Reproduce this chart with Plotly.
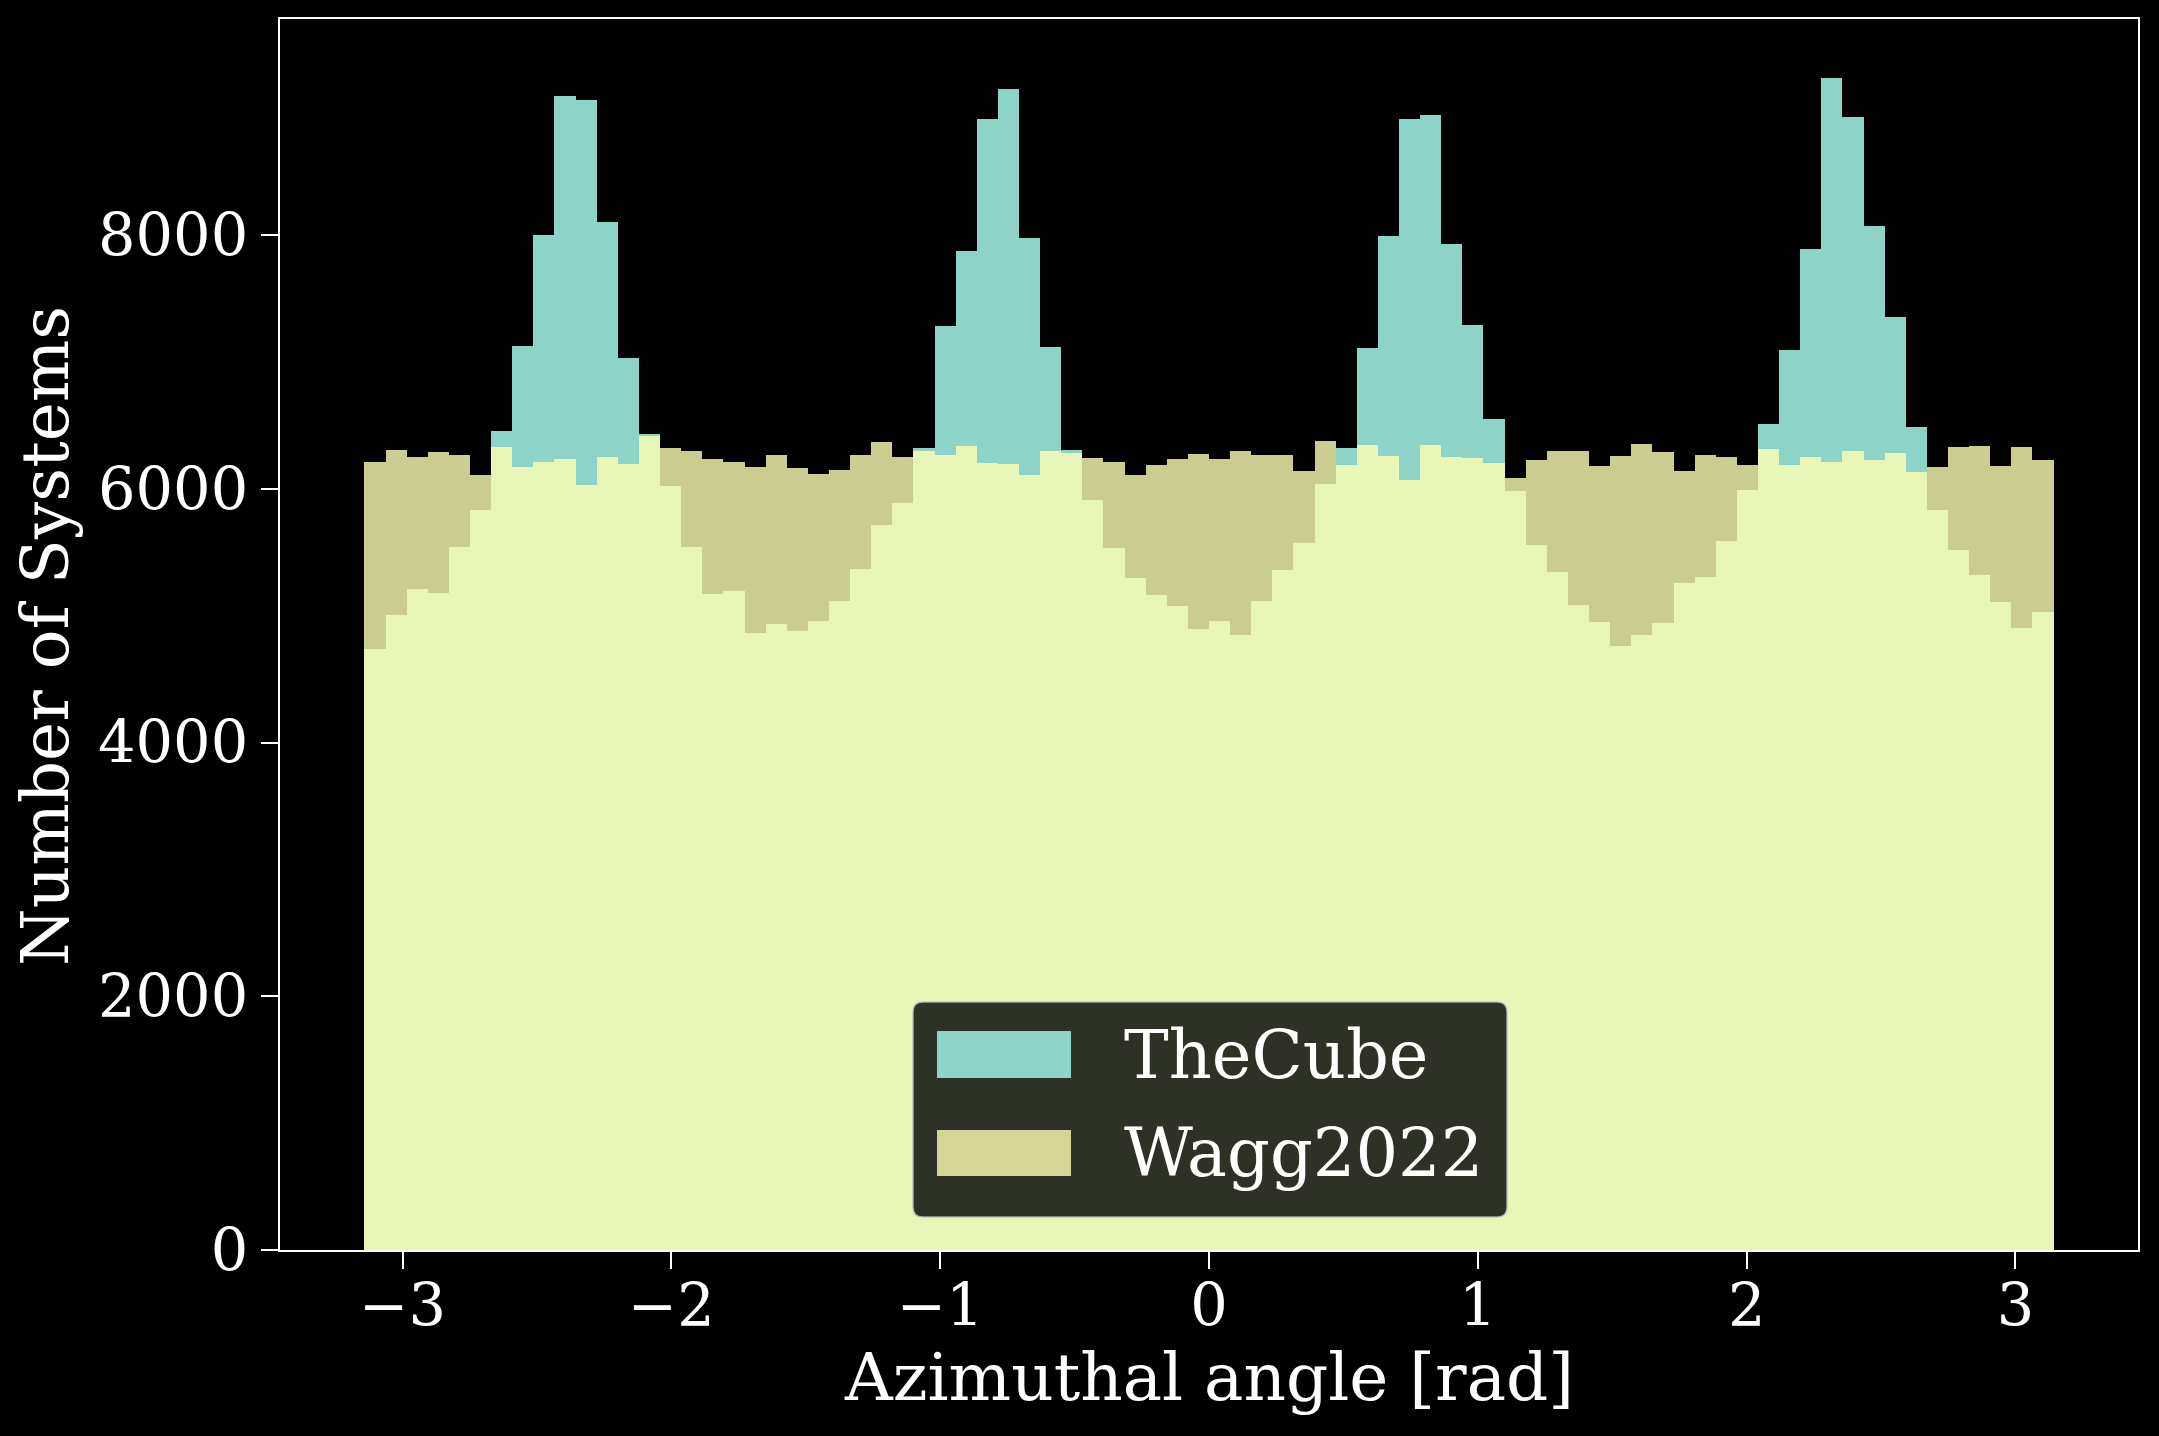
import numpy as np
import plotly.graph_objects as go

# ---------------- data ----------------
bin_edges = np.linspace(-np.pi, np.pi, 81)

thecube_counts = [
    4740, 5007, 5213, 5181, 5545, 5838, 6459, 7128, 8004, 9102,
    9063, 8107, 7035, 6436, 6024, 5545, 5174, 5197, 4865, 4936,
    4882, 4962, 5120, 5371, 5718, 5892, 6323, 7286, 7878, 8918,
    9156, 7981, 7122, 6311, 5915, 5535, 5300, 5165, 5078, 4897,
    4962, 4849, 5120, 5364, 5577, 6040, 6323, 7112, 7998, 8918,
    8950, 7933, 7296, 6552, 5986, 5561, 5348, 5088, 4953, 4763,
    4849, 4946, 5261, 5307, 5593, 5995, 6513, 7099, 7888, 9243,
    8934, 8075, 7357, 6491, 5838, 5522, 5323, 5110, 4904, 5033,
]

wagg2022_counts = [
    6214, 6311, 6253, 6295, 6269, 6111, 6333, 6176, 6214, 6237,
    6034, 6253, 6198, 6420, 6323, 6301, 6237, 6214, 6176, 6269,
    6166, 6121, 6153, 6269, 6372, 6253, 6301, 6269, 6340, 6207,
    6198, 6111, 6301, 6285, 6246, 6214, 6111, 6192, 6237, 6278,
    6237, 6301, 6269, 6269, 6143, 6382, 6192, 6349, 6263, 6073,
    6349, 6253, 6246, 6207, 6088, 6230, 6301, 6301, 6182, 6263,
    6356, 6295, 6143, 6269, 6253, 6192, 6317, 6192, 6253, 6214,
    6301, 6230, 6285, 6137, 6176, 6333, 6340, 6182, 6333, 6230,
]

series_names = ["TheCube", "Wagg2022"]
x_title = "Azimuthal angle [rad]"
y_title = "Number of Systems"
x_tick_values = [-3, -2, -1, 0, 1, 2, 3]
x_tick_labels = ["\u22123", "\u22122", "\u22121", "0", "1", "2", "3"]
y_tick_values = [0, 2000, 4000, 6000, 8000]
y_tick_labels = ["0", "2000", "4000", "6000", "8000"]

# ---------------- figure ----------------
W, H = 2159, 1436
ML, MR, MT, MB = 280, 21, 19, 186
PW, PH = W - ML - MR, H - MT - MB

centers = 0.5 * (bin_edges[:-1] + bin_edges[1:])
widths = np.diff(bin_edges)

C_CUBE = "#8dd3c7"
C_WAGG = "#feffb3"
FONT = "DejaVu Serif"

fig = go.Figure()
fig.add_trace(go.Bar(
    x=centers, y=thecube_counts, width=widths, name=series_names[0],
    marker=dict(color=C_CUBE, line=dict(width=0)), showlegend=False,
))
fig.add_trace(go.Bar(
    x=centers, y=wagg2022_counts, width=widths, name=series_names[1],
    marker=dict(color=C_WAGG, opacity=0.8, line=dict(width=0)), showlegend=False,
))

ymax = max(max(thecube_counts), max(wagg2022_counts)) * 1.05
xpad = 0.05 * (bin_edges[-1] - bin_edges[0])

axis_common = dict(
    showgrid=False, zeroline=False, showline=True, mirror=True,
    linecolor="white", linewidth=2, ticks="outside", ticklen=17,
    tickwidth=2, tickcolor="white", automargin=False,
    tickfont=dict(family=FONT, size=59, color="white"),
)

fig.update_layout(
    width=W, height=H,
    margin=dict(l=ML, r=MR, t=MT, b=MB, pad=0),
    paper_bgcolor="black", plot_bgcolor="black",
    barmode="overlay", bargap=0,
    showlegend=False,
    xaxis=dict(
        range=[bin_edges[0] - xpad, bin_edges[-1] + xpad],
        tickvals=x_tick_values, ticktext=x_tick_labels,
        ticklabelstandoff=-14,
        **axis_common,
    ),
    yaxis=dict(
        range=[0, ymax],
        tickvals=y_tick_values, ticktext=y_tick_labels,
        ticklabelstandoff=1,
        **axis_common,
    ),
)

# ---------------- helpers (pixel -> paper) ----------------
def px(xp):
    return (xp - ML) / PW

def py(yp):
    return (H - MB - yp) / PH

# ---------------- axis titles ----------------
fig.add_annotation(xref="paper", yref="paper", x=0.5, y=py(1377),
                   text=x_title, showarrow=False, xanchor="center", yanchor="middle",
                   font=dict(family=FONT, size=66, color="white"))
fig.add_annotation(xref="paper", yref="paper", x=px(46), y=py(636),
                   text=y_title, showarrow=False, textangle=-90,
                   xanchor="center", yanchor="middle",
                   font=dict(family=FONT, size=66, color="white"))

# ---------------- legend (matplotlib-style, lower center) ----------------
def rounded_rect(x0, y0, x1, y1, r):
    X0, X1 = px(x0), px(x1)
    Y0, Y1 = py(y0), py(y1)
    rx, ry = r / PW, r / PH
    return (
        f"M {X0+rx},{Y0} L {X1-rx},{Y0} Q {X1},{Y0} {X1},{Y0-ry} "
        f"L {X1},{Y1+ry} Q {X1},{Y1} {X1-rx},{Y1} "
        f"L {X0+rx},{Y1} Q {X0},{Y1} {X0},{Y1+ry} "
        f"L {X0},{Y0-ry} Q {X0},{Y0} {X0+rx},{Y0} Z"
    )

leg_x0, leg_x1, leg_y0, leg_y1 = 913, 1507, 1002, 1217
fig.add_shape(type="path", xref="paper", yref="paper",
              path=rounded_rect(leg_x0, leg_y0, leg_x1, leg_y1, 10),
              fillcolor="rgba(0,0,0,0.8)", line=dict(color="rgba(190,190,190,0.8)", width=1.5),
              layer="above")

patch_x0, patch_x1 = 937, 1071
patch_rows = [(1031, 1078), (1130, 1176)]
patch_colors = [C_CUBE, "rgba(254,255,179,0.8)"]
for (ya, yb), col, name in zip(patch_rows, patch_colors, series_names):
    fig.add_shape(type="rect", xref="paper", yref="paper",
                  x0=px(patch_x0), x1=px(patch_x1), y0=py(yb), y1=py(ya),
                  fillcolor=col, line=dict(width=0), layer="above")
    fig.add_annotation(xref="paper", yref="paper", x=px(1122), y=py((ya + yb) / 2),
                       text=name, showarrow=False, xanchor="left", yanchor="middle",
                       font=dict(family=FONT, size=67, color="white"))

fig.write_html("out.html")
